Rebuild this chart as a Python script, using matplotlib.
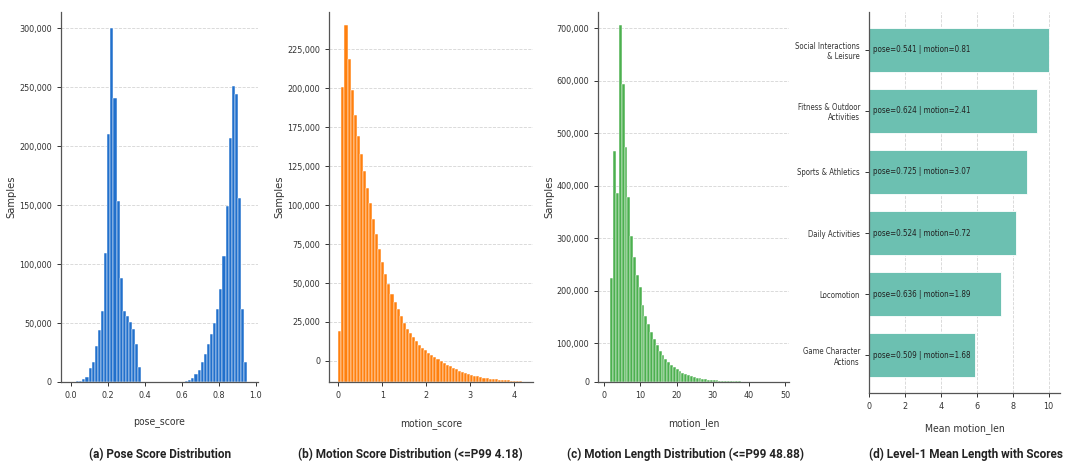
import numpy as np
import matplotlib
matplotlib.use("Agg")
import matplotlib.pyplot as plt

plt.rcParams['font.family'] = ['DejaVu Sans']
plt.rcParams['font.stretch'] = 'condensed'

# (a) pose score histogram
pose_edges = np.linspace(0.011, 0.955, 57)
pose_counts = [150, 500, 1200, 2500, 4500, 11900, 17000, 30800, 44000, 60000,
               109000, 210000, 300000, 241000, 153000, 88000, 60000, 56000, 51000,
               45000, 32000, 13000,
               0, 0, 0, 0, 0, 0, 0, 0, 0, 0, 0, 0, 0,
               400, 1000, 2000, 3700, 6500, 10500, 17000, 23700, 32000, 41000,
               50000, 62000, 79000, 107000, 149000, 207000, 251000, 244000,
               156000, 62000, 17000]
pose_yticks = [0, 50000, 100000, 150000, 200000, 250000, 300000]
pose_ylabels = ['0', '50,000', '100,000', '150,000', '200,000', '250,000', '300,000']

# (b) motion score histogram
motion_edges = np.linspace(0, 4.18, 61)
motion_counts = [32500, 189500, 229300, 207100, 187200, 171100, 157600, 146500,
                 135200, 124700, 114600, 104600, 94800, 85300, 76800, 69500,
                 62700, 56700, 51300, 47100, 42600, 37900, 34200, 31400, 28900,
                 26300, 24000, 21800, 20300, 18800, 17300, 16000, 14800, 13500,
                 12200, 11100, 10100, 9000, 8100, 7300, 6400, 5800, 5100, 4500,
                 4100, 3600, 3200, 2800, 2400, 2100, 1900, 1700, 1500, 1300,
                 1100, 1000, 850, 750, 650, 550]
motion_yticks = [13500, 38500, 63500, 88500, 113500, 138500, 163500, 188500, 213500]
motion_ylabels = ['0', '25,000', '50,000', '75,000', '100,000', '125,000',
                  '175,000', '200,000', '225,000']

# (c) motion length histogram
len_edges = np.linspace(1.67, 48.88, 61)
len_counts = [199000, 441000, 360000, 681000, 568000, 447000, 352000, 279000,
              238000, 203000, 181000, 147000, 126000, 111000, 95000, 82000,
              70000, 60000, 52000, 44000, 38000, 33000, 28600, 24000, 21000,
              17800, 15200, 13300, 11400, 9500, 8300, 7000, 6000, 5100, 4400,
              3800, 3200, 2900, 2500, 2200, 1900, 1700, 1500, 1300, 1150, 1000,
              900, 800, 700, 600, 500, 450, 400, 350, 300, 250, 200, 180, 150, 120]
len_yticks = [0, 74000, 174000, 274000, 374000, 474000, 574000, 674000]
len_ylabels = ['0', '100,000', '200,000', '300,000', '400,000', '500,000',
               '600,000', '700,000']

# (d) level-1 categories
categories = ['Game Character\nActions', 'Locomotion', 'Daily Activities',
              'Sports & Athletics', 'Fitness & Outdoor\nActivities',
              'Social Interactions\n& Leisure']
mean_len = [5.91, 7.34, 8.20, 8.79, 9.35, 10.04]
pose_mean = [0.509, 0.636, 0.524, 0.725, 0.624, 0.541]
motion_mean = [1.68, 1.89, 0.72, 3.07, 2.41, 0.81]

captions = ['(a) Pose Score Distribution',
            '(b) Motion Score Distribution (<=P99 4.18)',
            '(c) Motion Length Distribution (<=P99 48.88)',
            '(d) Level-1 Mean Length with Scores']

fig = plt.figure(figsize=(10.8, 4.74), dpi=100)
ax1 = fig.add_axes([0.0565, 0.1941, 0.1824, 0.7806])
ax2 = fig.add_axes([0.3049, 0.1941, 0.1889, 0.7806])
ax3 = fig.add_axes([0.5540, 0.1941, 0.1769, 0.7806])
ax4 = fig.add_axes([0.8046, 0.1709, 0.1769, 0.8038])


def style(ax):
    for s in ['top', 'right']:
        ax.spines[s].set_visible(False)
    for s in ['left', 'bottom']:
        ax.spines[s].set_color('#555555')
        ax.spines[s].set_linewidth(0.9)
    ax.tick_params(labelsize=6.5, colors='#333333', length=3, width=0.7)
    ax.set_axisbelow(True)


def hist_panel(ax, edges, counts, color, xlabel, yticks, ylabels, xlim, ylim):
    centers = (edges[:-1] + edges[1:]) / 2
    ax.hist(centers, bins=edges, weights=counts, color=color,
            edgecolor='white', linewidth=0.35)
    ax.set_xlim(*xlim)
    ax.set_ylim(*ylim)
    ax.set_yticks(yticks)
    ax.set_yticklabels(ylabels)
    ax.grid(axis='y', linestyle='--', color='#d5d5d5', linewidth=0.6)
    ax.set_xlabel(xlabel, fontsize=7.5, labelpad=13, color='#333333')
    ax.set_ylabel('Samples', fontsize=8, labelpad=2, color='#333333')
    style(ax)


hist_panel(ax1, pose_edges, pose_counts, '#2170cc', 'pose_score',
           pose_yticks, pose_ylabels, (-0.054, 1.013), (0, 313600))
ax1.set_xticks([0.0, 0.2, 0.4, 0.6, 0.8, 1.0])

hist_panel(ax2, motion_edges, motion_counts, '#ff800e', 'motion_score',
           motion_yticks, motion_ylabels, (-0.205, 4.43), (0, 237400))
ax2.set_xticks([0, 1, 2, 3, 4])

hist_panel(ax3, len_edges, len_counts, '#4cb04f', 'motion_len',
           len_yticks, len_ylabels, (-1.66, 51.2), (0, 705000))
ax3.set_xticks([0, 10, 20, 30, 40, 50])

y = np.arange(len(categories))
ax4.barh(y, mean_len, height=0.72, color='#6cc0b1', edgecolor='white', linewidth=0.6)
for i in range(len(categories)):
    ax4.text(0.22, y[i], f'pose={pose_mean[i]:.3f} | motion={motion_mean[i]:.2f}',
             fontsize=5.8, va='center', ha='left', color='#222222')
ax4.set_yticks(y)
ax4.set_yticklabels(categories, fontsize=5.6)
ax4.set_ylim(-0.62, 5.62)
ax4.set_xlim(0, 10.63)
ax4.set_xticks([0, 2, 4, 6, 8, 10])
ax4.grid(axis='x', linestyle='--', color='#d5d5d5', linewidth=0.6)
style(ax4)
ax4.tick_params(axis='y', labelsize=5.6)
ax4.set_xlabel('Mean motion_len', fontsize=7.5, labelpad=9, color='#333333')

cap_x = [0.148, 0.380, 0.635, 0.894]
for cx, cap in zip(cap_x, captions):
    fig.text(cx, 0.042, cap, ha='center', va='center', fontsize=8.5,
             fontweight='bold', family=['Roboto', 'DejaVu Sans'], color='#222222')

fig.savefig('out.png', dpi=100)
